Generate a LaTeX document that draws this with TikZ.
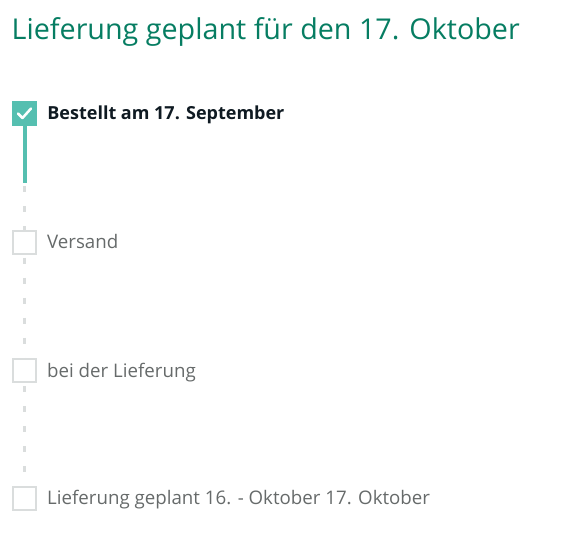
\documentclass[tikz,border=0pt]{standalone}
\usepackage{fontspec}
\setmainfont{Open Sans}
\usepackage{tikz}
\usetikzlibrary{positioning}
\definecolor{titleteal}{HTML}{067D62}
\definecolor{doneteal}{HTML}{55BFB0}
\definecolor{boxgray}{HTML}{DADDDD}
\definecolor{stepgray}{HTML}{666A6A}
\definecolor{darkink}{HTML}{0F1A22}
\tikzstyle{donebox} = [rectangle, minimum width=25pt, minimum height=25pt, inner sep=0pt, fill=doneteal, draw=none]
\tikzstyle{openbox} = [rectangle, minimum width=23pt, minimum height=23pt, inner sep=0pt, draw=boxgray, line width=2pt]
\tikzstyle{steptext} = [anchor=base west, inner sep=0pt, text=stepgray, font=\fontsize{18.7}{22}\selectfont]
\tikzstyle{donetext} = [anchor=base west, inner sep=0pt, text=darkink, font=\fontsize{18}{22}\selectfont\bfseries]
\tikzstyle{doneline} = [doneteal, line width=4pt]
\tikzstyle{openline} = [boxgray, line width=3pt, dash pattern=on 6pt off 14pt]

\begin{document}
\begin{tikzpicture}[x=1pt, y=-1pt]
\useasboundingbox (0,0) rectangle (585,545);
\node (title) [anchor=base west, inner sep=0pt, text=titleteal, font=\fontsize{28.7}{32}\selectfont] at (11.5,40) {Lieferung geplant für den 17. Oktober};

\node (box1) [donebox] at (24.5,113.5) {};
\node (box2) [openbox] at (24.5,242) {};
\node (box3) [openbox] at (24.5,370.5) {};
\node (box4) [openbox] at (24.5,498) {};
\coordinate (lineend) at (24.5,183);

\node (text1) [donetext] at ([xshift=10pt, yshift=-6.5pt]box1.east) {Bestellt am 17. September};
\node (text2) [steptext] at ([xshift=10pt, yshift=-6.5pt]box2.east) {Versand};
\node (text3) [steptext] at ([xshift=10pt, yshift=-6.5pt]box3.east) {bei der Lieferung};
\node (text4) [steptext] at ([xshift=10pt, yshift=-6.5pt]box4.east) {Lieferung geplant 16. - Oktober 17. Oktober};

% check mark
\draw[white, line width=2.5pt, line cap=round, line join=round] ([xshift=-6.5pt, yshift=0pt]box1.center) -- ([xshift=-2pt, yshift=-4.5pt]box1.center) -- ([xshift=6.5pt, yshift=5pt]box1.center);

\draw[doneline] (box1.south) -- (lineend);
\draw[openline, dash phase=-3pt] (lineend) -- (box2.north);
\draw[openline, dash phase=-3pt] (box2.south) -- (box3.north);
\draw[openline, dash phase=-3pt] (box3.south) -- (box4.north);
\end{tikzpicture}
\end{document}
